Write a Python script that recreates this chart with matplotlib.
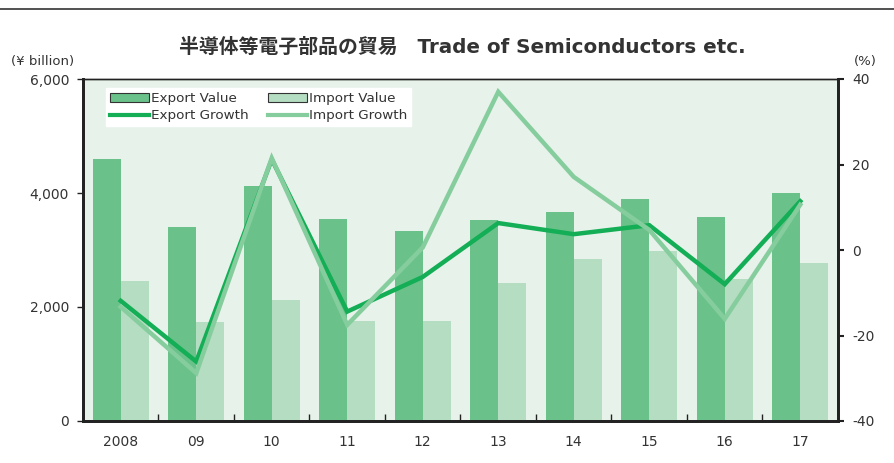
import numpy as np
import matplotlib
matplotlib.use("Agg")
import matplotlib.pyplot as plt
from matplotlib.patches import Patch
from matplotlib.lines import Line2D

plt.rcParams['font.family'] = ['DejaVu Sans', 'Noto Sans CJK JP']
plt.rcParams['axes.unicode_minus'] = False

# data
years = ['2008', '09', '10', '11', '12', '13', '14', '15', '16', '17']
export_value = [4600, 3400, 4125, 3545, 3330, 3530, 3665, 3895, 3580, 4000]
import_value = [2455, 1745, 2125, 1755, 1755, 2425, 2840, 2980, 2490, 2770]
export_growth = [-11.9, -26.1, 21.2, -14.4, -6.3, 6.3, 3.7, 5.8, -8.0, 11.4]
import_growth = [-13.3, -28.8, 21.5, -17.5, 0.6, 37.0, 17.1, 4.7, -16.1, 10.6]

c_exp_bar = '#6ac28a'
c_imp_bar = '#b5ddc1'
c_exp_line = '#13ae56'
c_imp_line = '#86cd9e'
c_bg = '#e7f2ea'
c_text = '#333333'

fig = plt.figure(figsize=(8.95, 4.63), dpi=100)
ax = fig.add_axes([83 / 895, 1 - 421 / 463, 755 / 895, 342 / 463])
ax.set_facecolor(c_bg)

x = np.arange(len(years))
w = 0.37
ax.bar(x - w / 2, export_value, width=w, color=c_exp_bar, zorder=2)
ax.bar(x + w / 2, import_value, width=w, color=c_imp_bar, zorder=2)
ax.set_xlim(-0.5, len(years) - 0.5)
ax.set_ylim(0, 6000)
ax.set_yticks([0, 2000, 4000, 6000])
ax.set_yticklabels(['0', '2,000', '4,000', '6,000'])
ax.set_xticks(x)
ax.set_xticklabels(years)
ax.set_xticks(np.arange(0.5, len(years) - 0.5, 1), minor=True)
ax.tick_params(axis='x', which='major', length=0, pad=10, labelsize=10, colors=c_text)
ax.tick_params(axis='x', which='minor', direction='in', length=5, width=1, color='#222222')
ax.tick_params(axis='y', direction='out', length=4, width=1, pad=6, labelsize=10,
               colors=c_text)
ax.tick_params(axis='y', color='#222222')

ax2 = ax.twinx()
ax2.plot(x, export_growth, color=c_exp_line, lw=3.2, zorder=3, solid_joinstyle='miter')
ax2.plot(x, import_growth, color=c_imp_line, lw=3.2, zorder=4, solid_joinstyle='miter')
ax2.set_ylim(-40, 40)
ax2.set_yticks([-40, -20, 0, 20, 40])
ax2.tick_params(axis='y', direction='out', length=4, width=1.5, pad=6, labelsize=10,
                colors=c_text)
ax2.tick_params(axis='y', color='#222222')

for a in (ax, ax2):
    a.spines['left'].set_linewidth(2)
    a.spines['right'].set_linewidth(2)
    a.spines['bottom'].set_linewidth(2)
    a.spines['top'].set_linewidth(1)
    for s in a.spines.values():
        s.set_color('#222222')

handles = [Patch(facecolor=c_exp_bar, edgecolor='#333333', lw=0.8),
           Line2D([], [], color=c_exp_line, lw=3),
           Patch(facecolor=c_imp_bar, edgecolor='#333333', lw=0.8),
           Line2D([], [], color=c_imp_line, lw=3)]
labels = ['Export Value', 'Export Growth', 'Import Value', 'Import Growth']
leg = ax2.legend(handles, labels, ncol=2, loc='upper left',
                 bbox_to_anchor=(23 / 755, 1 - 9 / 342), frameon=True,
                 fancybox=False, framealpha=1, edgecolor='white', fontsize=9.7,
                 handlelength=2.9, handleheight=0.6, handletextpad=0.15,
                 columnspacing=1.4, labelspacing=0.3, borderpad=0.3,
                 borderaxespad=0)
for t in leg.get_texts():
    t.set_color(c_text)

fig.text(0.516, 1 - 47 / 463, '半導体等電子部品の貿易\u3000Trade of Semiconductors etc.',
         ha='center', va='center', fontsize=14.3, fontweight='bold', color=c_text)
fig.text(43 / 895, 1 - 62 / 463, '(¥ billion)', ha='center', va='center',
         fontsize=9.5, color=c_text)
fig.text(865 / 895, 1 - 62 / 463, '(%)', ha='center', va='center',
         fontsize=9.5, color=c_text)

fig.add_artist(Line2D([0, 1], [1 - 9 / 463, 1 - 9 / 463], color='#333333', lw=1.2,
                      transform=fig.transFigure))

fig.savefig('out.png', dpi=100, facecolor='white')
